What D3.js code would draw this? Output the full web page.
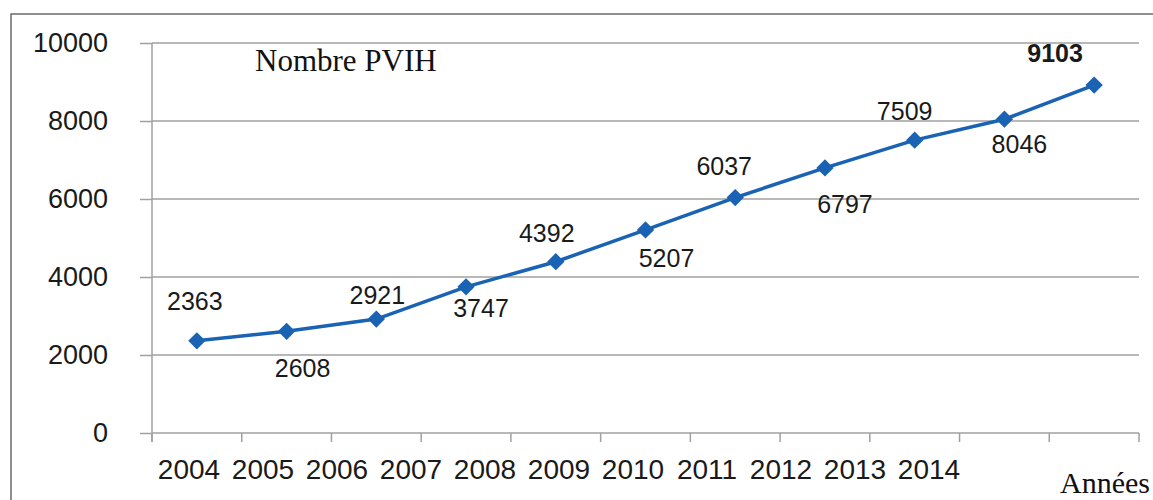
<!DOCTYPE html>
<html>
<head>
<meta charset="utf-8">
<script src="https://cdn.jsdelivr.net/npm/d3@7"></script>
<style>
  body { margin: 0; background: #fff; }
  svg { display: block; }
</style>
</head>
<body>
<div id="chart"></div>
<script>
var width = 1153;
var height = 500;

// data
var years = ["2004", "2005", "2006", "2007", "2008", "2009", "2010", "2011", "2012", "2013", "2014"];
var values = [2363, 2608, 2921, 3747, 4392, 5207, 6037, 6797, 7509, 8046, 8920];
var valueLabels = ["2363", "2608", "2921", "3747", "4392", "5207", "6037", "6797", "7509", "8046", "9103"];
var yTicks = [0, 2000, 4000, 6000, 8000, 10000];

// hand placement of value labels (dx, dy from marker)
var labelShift = [[-2, -31], [16, 46], [1, -15], [15, 30], [-9, -20], [21, 37],
                  [-11, -23], [20, 45], [-10, -20], [15, 34], [-39, -23]];

var plotLeft = 152, plotRight = 1139, plotTop = 43, plotBottom = 433;

var svg = d3.select("#chart")
            .append("svg")
            .attr("width", width)
            .attr("height", height);

// outer frame
svg.append("rect")
   .attr("x", 11).attr("y", 14)
   .attr("width", 1200).attr("height", 600)
   .attr("fill", "none")
   .attr("stroke", "#6b6b6b")
   .attr("stroke-width", 1.5);

var x = d3.scaleBand().domain(years).range([plotLeft, plotRight]);
var y = d3.scaleLinear().domain([0, 10000]).range([plotBottom, plotTop]);
var xLab = d3.scalePoint().domain(years).range([189, 929]);

// gridlines
svg.append("g")
   .selectAll("line")
   .data(yTicks)
   .enter()
   .append("line")
   .attr("x1", plotLeft).attr("x2", plotRight)
   .attr("y1", function(d) { return y(d); })
   .attr("y2", function(d) { return y(d); })
   .attr("stroke", "#a0a0a0")
   .attr("stroke-width", 1.5);

// y axis
var yAxis = svg.append("g")
   .attr("transform", "translate(" + plotLeft + ",0)")
   .call(d3.axisLeft(y).tickValues(yTicks).tickFormat(d3.format("d"))
           .tickSize(12).tickPadding(32).tickSizeOuter(0));
yAxis.select(".domain").attr("stroke", "#a0a0a0").attr("stroke-width", 1.5)
     .attr("d", "M0," + plotTop + "V" + (plotBottom + 9));
yAxis.selectAll(".tick line").attr("stroke", "#a0a0a0").attr("stroke-width", 1.5);
yAxis.selectAll(".tick text")
     .attr("fill", "#1a1a1a")
     .style("font-family", "'Liberation Sans', Arial, sans-serif")
     .style("font-size", "27px");

// x axis ticks at band edges
var edges = years.map(function(d) { return x(d); }).concat([x(years[years.length - 1]) + x.step()]);
svg.append("g")
   .selectAll("line")
   .data(edges)
   .enter()
   .append("line")
   .attr("x1", function(d) { return d; })
   .attr("x2", function(d) { return d; })
   .attr("y1", plotBottom)
   .attr("y2", plotBottom + 9)
   .attr("stroke", "#a0a0a0")
   .attr("stroke-width", 1.5);

svg.append("g")
   .selectAll("text")
   .data(years)
   .enter()
   .append("text")
   .attr("x", function(d) { return xLab(d); })
   .attr("y", 479)
   .attr("text-anchor", "middle")
   .attr("fill", "#1a1a1a")
   .style("font-family", "'Liberation Sans', Arial, sans-serif")
   .style("font-size", "28px")
   .text(function(d) { return d; });

// line
var cx = function(i) { return x(years[i]) + x.bandwidth() / 2; };
var line = d3.line()
   .x(function(d, i) { return cx(i); })
   .y(function(d) { return y(d); });

svg.append("path")
   .datum(values)
   .attr("d", line)
   .attr("fill", "none")
   .attr("stroke", "#1a62b3")
   .attr("stroke-width", 3.5);

svg.append("g")
   .selectAll("path")
   .data(values)
   .enter()
   .append("path")
   .attr("d", d3.symbol().type(d3.symbolSquare).size(150))
   .attr("transform", function(d, i) { return "translate(" + cx(i) + "," + y(d) + ") rotate(45)"; })
   .attr("fill", "#1a62b3");

// value labels
svg.append("g")
   .selectAll("text")
   .data(values)
   .enter()
   .append("text")
   .attr("x", function(d, i) { return cx(i) + labelShift[i][0]; })
   .attr("y", function(d, i) { return y(d) + labelShift[i][1]; })
   .attr("text-anchor", "middle")
   .attr("fill", "#1a1a1a")
   .style("font-family", "'Liberation Sans', Arial, sans-serif")
   .style("font-size", "25px")
   .style("font-weight", function(d, i) { return i == values.length - 1 ? "bold" : "normal"; })
   .text(function(d, i) { return valueLabels[i]; });

// titles
svg.append("text")
   .attr("x", 255).attr("y", 71)
   .attr("fill", "#111")
   .style("font-family", "'Liberation Serif', 'Times New Roman', serif")
   .style("font-size", "31px")
   .text("Nombre PVIH");

svg.append("text")
   .attr("x", 1060).attr("y", 493)
   .attr("fill", "#111")
   .style("font-family", "'Liberation Serif', 'Times New Roman', serif")
   .style("font-size", "30px")
   .text("Années");
</script>
</body>
</html>
